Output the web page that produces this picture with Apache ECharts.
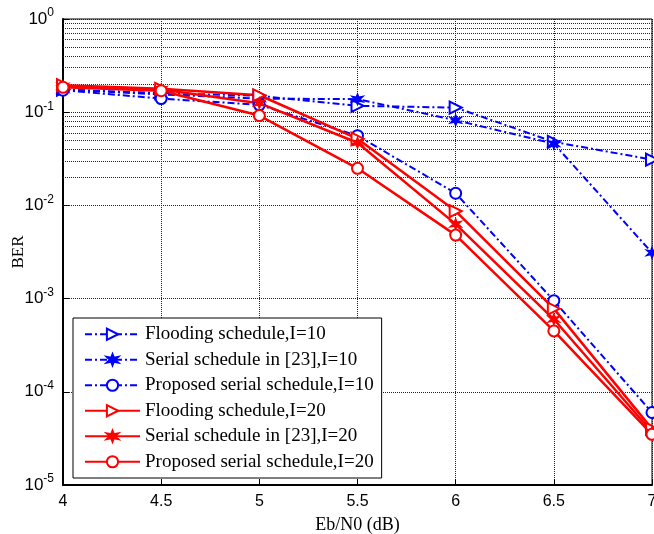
<!DOCTYPE html>
<html>
<head>
<meta charset="utf-8">
<script src="https://cdn.jsdelivr.net/npm/echarts@6/dist/echarts.min.js"></script>
<style>
  html, body { margin: 0; padding: 0; background: #fff; }
  #chart { width: 654px; height: 534px; }
</style>
</head>
<body>
<div id="chart"></div>
<script>
// Eb/N0 points (dB)
const ebn0 = [4, 4.5, 5, 5.5, 6, 6.5, 7]

// BER
const flooding10 = [0.175, 0.16, 0.15, 0.117, 0.112, 0.048, 0.031]
const serial10 = [0.175, 0.155, 0.14, 0.138, 0.082, 0.046, 0.0031]
const proposed10 = [0.172, 0.14, 0.12, 0.056, 0.0135, 0.00095, 0.00006]
const flooding20 = [0.195, 0.178, 0.152, 0.052, 0.0087, 0.00078, 0.00004]
const serial20 = [0.19, 0.175, 0.125, 0.047, 0.0063, 0.0006, 0.000037]
const proposed20 = [0.185, 0.17, 0.092, 0.025, 0.0048, 0.00045, 0.000035]

const names = [
  'Flooding schedule,I=10',
  'Serial schedule in [23],I=10',
  'Proposed serial schedule,I=10',
  'Flooding schedule,I=20',
  'Serial schedule in [23],I=20',
  'Proposed serial schedule,I=20',
]

// minor log grid (2..9 in each decade)
const decades = [1e-5, 1e-4, 1e-3, 1e-2, 1e-1]
const minorSteps = [2, 3, 4, 5, 6, 7, 8, 9]

const star = 'path://M0,-10 L2.2,-3.5 L8.7,-5 L4,0 L8.7,5 L2.2,3.5 L0,10 L-2.2,3.5 L-8.7,5 L-4,0 L-8.7,-5 L-2.2,-3.5 Z'

const pairs = (ys) => ebn0.map((x, i) => [x, ys[i]])

const blueLine = { color: '#0000ff', width: 2, type: [7, 3, 2, 3] }
const redLine = { color: '#ff0000', width: 2.5, type: 'solid' }

const mk = (name, ys, line, symbol, size, rotate) => ({
  name,
  type: 'line',
  data: pairs(ys),
  symbol,
  symbolSize: size,
  symbolRotate: rotate || 0,
  lineStyle: line,
  itemStyle: { color: line.color, borderColor: line.color, borderWidth: 2 },
  emphasis: { disabled: true },
  z: 5,
})

const minorLines = []
decades.forEach((d) => minorSteps.forEach((m) => minorLines.push({ yAxis: d * m })))

const serif = '"Liberation Serif", "Times New Roman", serif'
const sans = '"Liberation Sans", Arial, sans-serif'
const gridLine = { color: '#222', type: [1, 1], width: 1 }

const chart = echarts.init(document.getElementById('chart'), null, { renderer: 'canvas' })
chart.setOption({
  animation: false,
  backgroundColor: '#fff',
  grid: {
    left: 63, right: 2, top: 19, bottom: 49,
    outerBoundsMode: 'none',
    containLabel: false,
    show: true, borderColor: '#000', borderWidth: 1, backgroundColor: 'transparent',
  },
  xAxis: {
    type: 'value',
    min: 4, max: 7, interval: 0.5,
    name: 'Eb/N0 (dB)',
    nameLocation: 'middle',
    nameGap: 31,
    nameMoveOverlap: false,
    nameTextStyle: { fontFamily: serif, fontSize: 18, color: '#000' },
    axisLine: { lineStyle: { color: '#000', width: 2 } },
    axisTick: { inside: true, length: 6, lineStyle: { color: '#000' } },
    axisLabel: { fontFamily: sans, fontSize: 16, color: '#000', margin: 9 },
    splitLine: { show: true, lineStyle: gridLine },
  },
  yAxis: {
    type: 'log',
    logBase: 10,
    min: 1e-5, max: 1,
    name: 'BER',
    nameLocation: 'middle',
    nameGap: 36,
    nameMoveOverlap: false,
    nameTextStyle: { fontFamily: serif, fontSize: 17, color: '#000' },
    axisLine: { show: true, lineStyle: { color: '#000', width: 2 } },
    axisTick: { inside: true, length: 6, lineStyle: { color: '#000' } },
    axisLabel: {
      margin: 9,
      formatter: (v) => '{b|10}{s|' + Math.round(Math.log10(v)) + '}',
      rich: {
        b: { fontFamily: sans, fontSize: 17, color: '#000' },
        s: { fontFamily: sans, fontSize: 12, color: '#000', verticalAlign: 'bottom', padding: [0, 0, 12, 0] },
      },
    },
    splitLine: { show: true, lineStyle: gridLine },
  },
  legend: {
    orient: 'vertical',
    left: 73, top: 318,
    data: names,
    itemWidth: 55, itemHeight: 14, itemGap: 5,
    padding: [6, 8, 6, 11],
    backgroundColor: '#fff',
    borderColor: '#000', borderWidth: 1,
    textStyle: { fontFamily: serif, fontSize: 19, color: '#000', lineHeight: 20.5 },
  },
  series: [
    {
      name: 'minor', type: 'line', data: [], silent: true,
      markLine: {
        silent: true, symbol: 'none', label: { show: false },
        lineStyle: gridLine,
        data: minorLines,
        animation: false,
      },
    },
    mk(names[0], flooding10, blueLine, 'emptyTriangle', 12, -90),
    mk(names[1], serial10, blueLine, star, 9),
    mk(names[2], proposed10, blueLine, 'emptyCircle', 11),
    mk(names[3], flooding20, redLine, 'emptyTriangle', 12, -90),
    mk(names[4], serial20, redLine, star, 9),
    mk(names[5], proposed20, redLine, 'emptyCircle', 11),
  ],
})
</script>
</body>
</html>
